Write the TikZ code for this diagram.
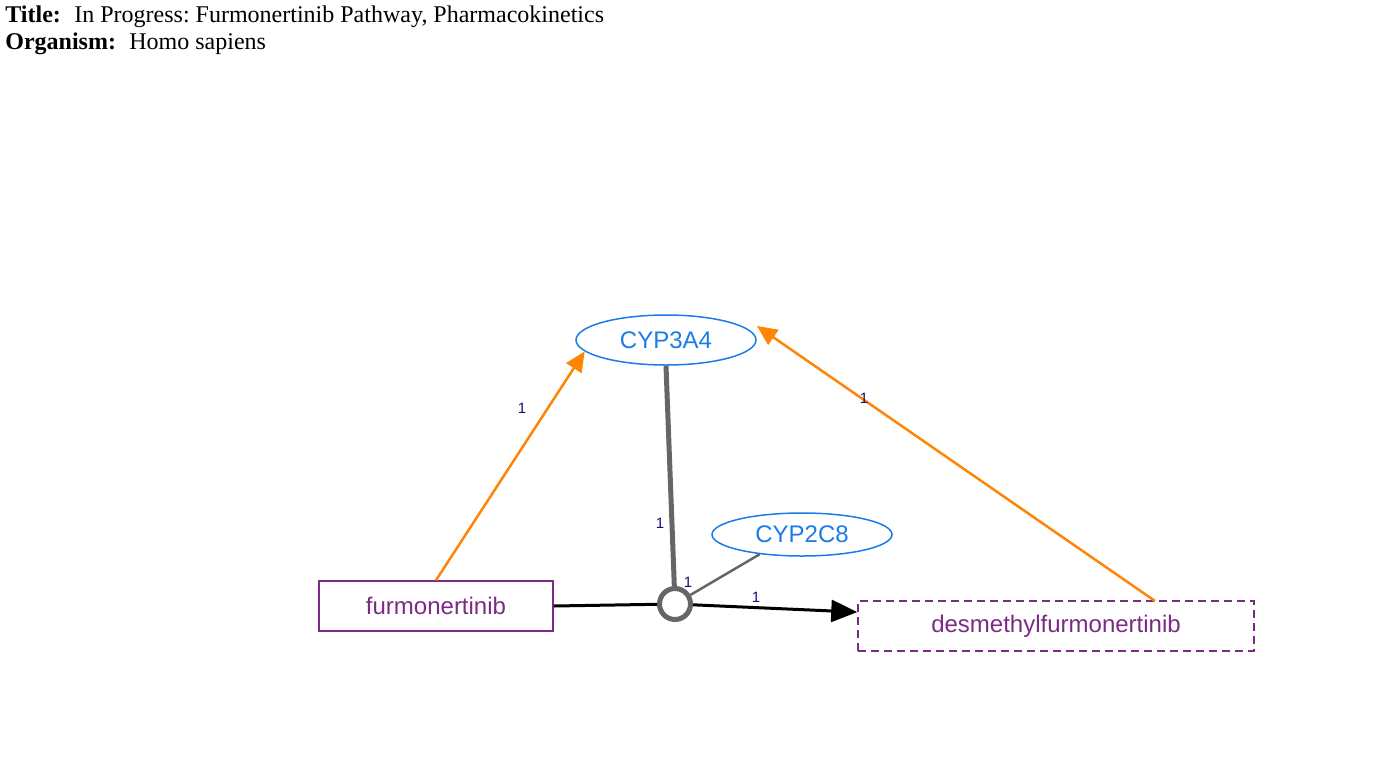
\documentclass[tikz,border=0pt]{standalone}
\usepackage{fontspec}
\setmainfont{Liberation Serif}
\newfontfamily\arialfont{Liberation Sans}
\usetikzlibrary{arrows.meta,shapes.geometric}
\frenchspacing
\definecolor{geneblue}{HTML}{1B7BE9}
\definecolor{metpurple}{HTML}{7A2B84}
\definecolor{catorange}{HTML}{FF8505}
\definecolor{anchgray}{HTML}{666666}
\definecolor{labnavy}{HTML}{10107A}
\tikzset{
  gene/.style={ellipse, draw=geneblue, text=geneblue, line width=0.75pt, minimum width=90pt,
    minimum height=25pt, inner sep=0pt, font=\arialfont\fontsize{12}{14}\selectfont},
  metab/.style={rectangle, draw=metpurple, text=metpurple, line width=0.75pt, minimum height=25pt,
    inner sep=0pt, font=\arialfont\fontsize{12}{14}\selectfont},
  edgelab/.style={text=labnavy, inner sep=0pt, font=\arialfont\fontsize{7.5}{8}\selectfont},
  headtxt/.style={anchor=base west, inner sep=0pt, font=\fontsize{12}{13}\selectfont},
  catal/.style={draw=catorange, line width=1.25pt, -{Triangle[length=10pt,width=9pt]}},
}
\begin{document}
\begin{tikzpicture}[x=0.5pt, y=-0.5pt]
  \useasboundingbox (0,0) rectangle (1392,772);

  % Header
  \node[headtxt] (ttlkey) at (5,22) {\bfseries Title:};
  \node[headtxt] (ttlval) at (74,22) {In Progress: Furmonertinib Pathway, Pharmacokinetics};
  \node[headtxt] (orgkey) at (5,49) {\bfseries Organism:};
  \node[headtxt] (orgval) at (129,49) {Homo sapiens};

  % Genes and metabolites
  \node[gene] (cyp3a4) at (666,340) {CYP3A4};
  \node[gene, minimum height=21.5pt] (cyp2c8) at (802,534.5) {CYP2C8};
  \node[metab, minimum width=117pt] (furm) at (436,606) {furmonertinib};
  \node[metab, dashed, dash pattern=on 4pt off 2.5pt, minimum width=198pt] (desm) at (1056,626) {desmethylfurmonertinib};

  % Conversion with its anchor
  \node[circle, draw=anchgray, fill=white, line width=2.5pt, minimum size=15.5pt, inner sep=0pt] (anch) at (675,604) {};
  \draw[line width=1.5pt] (furm.east) -- (anch);
  \draw[line width=1.5pt, -{Triangle[length=13pt,width=11pt]}] (anch) -- (desm.176);
  \draw[anchgray, line width=2.5pt] (cyp3a4.south) -- (anch);
  \draw[anchgray, line width=1.25pt] (cyp2c8.205) -- (anch);

  % Catalysis arrows
  \coordinate (desmtop) at (1155,601);
  \coordinate (cyptip) at (757,326);
  \draw[catal] (furm.north) -- (cyp3a4.188);
  \draw[catal] (desmtop) -- (cyptip);

  % Edge labels
  \node[edgelab] (lab1) at (522,408) {1};
  \node[edgelab] (lab2) at (864,398) {1};
  \node[edgelab] (lab3) at (660,523) {1};
  \node[edgelab] (lab4) at (688,582) {1};
  \node[edgelab] (lab5) at (756,597) {1};
\end{tikzpicture}
\end{document}
